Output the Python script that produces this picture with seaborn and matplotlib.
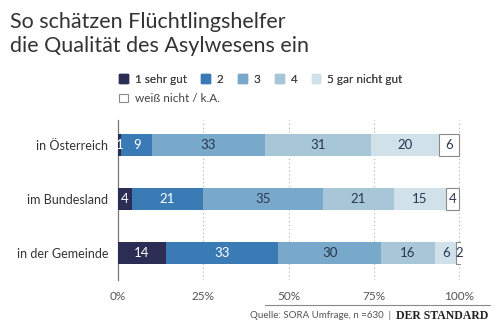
import numpy as np
import pandas as pd
import matplotlib
matplotlib.use("Agg")
import matplotlib.pyplot as plt
from matplotlib.patches import Patch
from matplotlib.lines import Line2D
import seaborn as sns

regions = ["in Österreich", "im Bundesland", "in der Gemeinde"]
categories = ["1 sehr gut", "2", "3", "4", "5 gar nicht gut", "weiß nicht / k.A."]
sehr_gut = [1, 4, 14]
note_2 = [9, 21, 33]
note_3 = [33, 35, 30]
note_4 = [31, 21, 16]
gar_nicht_gut = [20, 15, 6]
weiss_nicht = [6, 4, 2]
xticks = [0, 25, 50, 75, 100]
xtick_labels = ["0%", "25%", "50%", "75%", "100%"]

series = [sehr_gut, note_2, note_3, note_4, gar_nicht_gut, weiss_nicht]
colors = ["#2b2d55", "#3a7bb6", "#78a9cb", "#a7c7d8", "#d1e1ea", "#ffffff"]
text_colors = ["white", "white", "#2b3550", "#2b3550", "#2b3550", "#2b3550"]

sns.set_theme(style="white")
plt.rcParams["font.family"] = ["Lato", "DejaVu Sans"]

fig = plt.figure(figsize=(5.0, 3.24), dpi=100)
ax = fig.add_axes([0.236, 0.136, 0.686, 0.494])

# stacked horizontal bars, one seaborn call per answer category
starts = np.zeros(len(regions))
for vals, col, tcol, name in zip(series, colors, text_colors, categories):
    vals = np.asarray(vals, dtype=float)
    df = pd.DataFrame({"region": regions, "value": vals})
    is_white = col == "#ffffff"
    sns.barplot(data=df, x="value", y="region", order=regions, orient="y",
                left=starts.copy(), color=col, saturation=1, width=0.4,
                edgecolor="#8a8a8a" if is_white else col,
                linewidth=0.8 if is_white else 0, ax=ax, zorder=3)
    for i, v in enumerate(vals):
        ax.text(starts[i] + v / 2, i, f"{int(v)}", ha="center", va="center",
                fontsize=9.5, color=tcol, zorder=4)
    starts = starts + vals

ax.set_xlim(0, 100.5)
ax.set_ylim(2.5, -0.46)
ax.set_xticks(xticks)
ax.set_xticklabels(xtick_labels)
ax.set_xlabel("")
ax.set_ylabel("")
for x in xticks[1:]:
    ax.axvline(x, color="#b0b0b0", lw=0.8, ls=(0, (1, 2.5)), zorder=1)
for s in ["top", "right", "bottom"]:
    ax.spines[s].set_visible(False)
ax.spines["left"].set_color("#777777")
ax.spines["left"].set_linewidth(0.9)
ax.tick_params(axis="x", length=0, pad=8, labelsize=8.5, labelcolor="#555555")
ax.tick_params(axis="y", length=0, pad=7, labelsize=9, labelcolor="#333333")

fig.text(0.02, 0.962, "So schätzen Flüchtlingshelfer\ndie Qualität des Asylwesens ein",
         ha="left", va="top", fontsize=15.5, color="#333333", linespacing=1.22)

handles = [Patch(facecolor=c, edgecolor=c) for c in colors[:5]]
leg1 = fig.legend(handles, categories[:5], ncol=5, loc="upper left",
                  bbox_to_anchor=(0.228, 0.787), frameon=False, fontsize=8.5,
                  handlelength=0.75, handleheight=0.75, handletextpad=0.6,
                  columnspacing=1.2, labelcolor="#444444", borderaxespad=0)
fig.add_artist(leg1)
fig.legend([Patch(facecolor="white", edgecolor="#8a8a8a", linewidth=0.8)],
           categories[5:], loc="upper left", bbox_to_anchor=(0.228, 0.727),
           frameon=False, fontsize=8.5, handlelength=0.75, handleheight=0.75,
           handletextpad=0.6, labelcolor="#444444", borderaxespad=0)

fig.add_artist(Line2D([0.53, 0.98], [0.058, 0.058], color="#888888", lw=0.8,
                      transform=fig.transFigure))
fig.text(0.782, 0.025, "Quelle: SORA Umfrage, n =630  |", ha="right", va="center",
         fontsize=7, color="#555555")
fig.text(0.977, 0.025, "DER STANDARD", ha="right", va="center", fontsize=8.5,
         fontweight="bold", family="Liberation Serif", color="#222222")

fig.savefig("out.png", dpi=100, facecolor="white")
